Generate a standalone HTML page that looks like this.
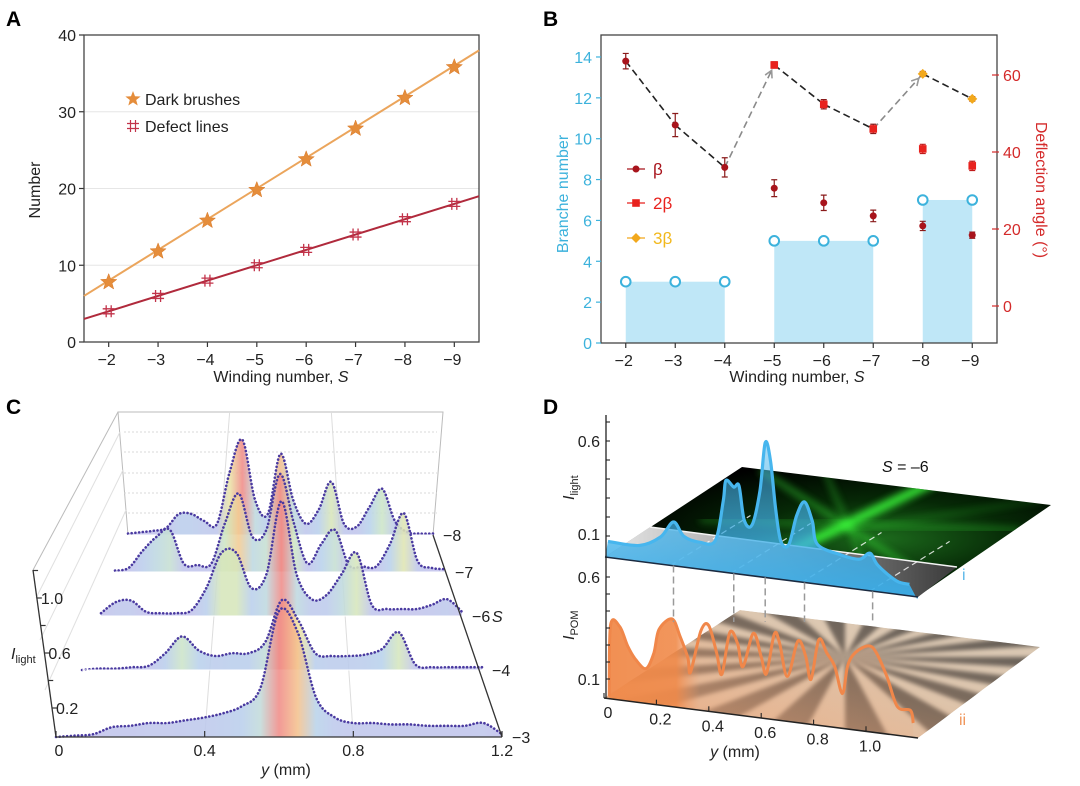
<!DOCTYPE html>
<html><head><meta charset="utf-8"><title>Figure</title>
<style>
html,body{margin:0;padding:0;background:#fff;}
svg{display:block;font-family:"Liberation Sans",Arial,sans-serif;}
</style></head>
<body>
<svg id="fig" width="1080" height="786" viewBox="0 0 1080 786" xmlns="http://www.w3.org/2000/svg">
<defs>
  <radialGradient id="greenGlow" cx="0.62" cy="0.55" r="0.6">
    <stop offset="0" stop-color="#1c6a1c"/><stop offset="0.5" stop-color="#062806"/><stop offset="1" stop-color="#000"/>
  </radialGradient>
  <linearGradient id="frontStrip" x1="0" y1="0" x2="1" y2="0">
    <stop offset="0" stop-color="#e8e8e8"/><stop offset="0.5" stop-color="#9a9a9a"/><stop offset="1" stop-color="#3a3a3a"/>
  </linearGradient>
  <linearGradient id="blueFill" x1="0" y1="0" x2="0" y2="1">
    <stop offset="0" stop-color="#49b4ea" stop-opacity="0.45"/><stop offset="1" stop-color="#3aaeea" stop-opacity="0.95"/>
  </linearGradient>
  <linearGradient id="orangeFill" x1="0" y1="0" x2="1" y2="0">
    <stop offset="0" stop-color="#f08a4a" stop-opacity="0.95"/><stop offset="0.22" stop-color="#f08a4a" stop-opacity="0.9"/><stop offset="0.3" stop-color="#f0a070" stop-opacity="0.15"/><stop offset="1" stop-color="#f0a070" stop-opacity="0.1"/>
  </linearGradient>
  <linearGradient id="pomTint" x1="0" y1="1" x2="1" y2="0">
    <stop offset="0" stop-color="#f2a070" stop-opacity="0.75"/><stop offset="0.5" stop-color="#f2b890" stop-opacity="0.25"/><stop offset="1" stop-color="#fff" stop-opacity="0"/>
  </linearGradient>
  <filter id="blur2"><feGaussianBlur stdDeviation="2"/></filter>
  <filter id="blur4"><feGaussianBlur stdDeviation="4"/></filter>
  <clipPath id="upperClip"><polygon points="742,467 1051,505 917,597 605,557"/></clipPath>
  <clipPath id="lowerClip"><polygon points="740,610 1040,647 918,738 604,698"/></clipPath>
</defs>

<!-- Panel labels -->
<text x="6" y="26" font-size="21" font-weight="bold">A</text>
<text x="543" y="26" font-size="21" font-weight="bold">B</text>
<text x="6" y="414" font-size="21" font-weight="bold">C</text>
<text x="543" y="414" font-size="21" font-weight="bold">D</text>

<g id="panelA"></g>
<g id="panelB"></g>
<g id="panelC"></g>
<g id="panelD"></g>
</svg>

<script>
// ---------- Panel A data ----------
const aCategories = [-2, -3, -4, -5, -6, -7, -8, -9];
const aDarkBrushes = [7.8, 11.8, 15.8, 19.8, 23.8, 27.8, 31.8, 35.8];
const aDefectLines = [4, 6, 8, 10, 12, 14, 16, 18];
const aFitDarkEnds = [6, 38];
const aFitDefectEnds = [3, 19];
const aFitRange = [-1.5, -9.5];
const aYTicks = [0, 10, 20, 30, 40];

// ---------- Panel B data ----------
const bCategories = [-2, -3, -4, -5, -6, -7, -8, -9];
const bBranches = [3, 3, 3, 5, 5, 5, 7, 7];
const bDeflection = [63.6, 47, 36, 62.6, 52.4, 46, 60.3, 53.8];
const bDeflectionErr = [2, 3, 2.5, 0.8, 1.2, 1.2, 0.6, 0.6];
const bDeflectionType = ['b1', 'b1', 'b1', 'b2', 'b2', 'b2', 'b3', 'b3'];
const bBetaCats = [-5, -6, -7, -8, -9];
const bBeta = [30.6, 26.8, 23.4, 20.8, 18.4];
const bBetaErr = [2.2, 2, 1.5, 1.2, 0.8];
const b2BetaCats = [-8, -9];
const b2Beta = [40.8, 36.4];
const b2BetaErr = [1.2, 1.2];
const bLeftTicks = [0, 2, 4, 6, 8, 10, 12, 14];
const bRightTicks = [0, 20, 40, 60];

// ---------- Panel C data ----------
const cPositions = [0,0.05,0.1,0.15,0.2,0.25,0.3,0.35,0.4,0.45,0.5,0.55,0.6,0.65,0.7,0.75,0.8,0.85,0.9,0.95,1.0,1.05,1.1,1.15,1.2];
const cRowLabels = ['-3', '-4', '-6', '-7', '-8'];
const cRowS3 = [0,0.01,0.02,0.07,0.08,0.1,0.1,0.12,0.14,0.17,0.22,0.35,0.9,0.75,0.28,0.14,0.1,0.1,0.09,0.09,0.08,0.08,0.08,0.1,0.02];
const cRowS4 = [0,0.01,0.01,0.02,0.03,0.12,0.24,0.14,0.1,0.12,0.12,0.2,0.5,0.35,0.12,0.1,0.1,0.11,0.15,0.27,0.04,0.02,0.02,0.02,0.02];
const cRowS6 = [0.02,0.1,0.11,0.03,0.02,0.02,0.04,0.2,0.45,0.45,0.2,0.3,0.82,0.3,0.12,0.15,0.3,0.45,0.08,0.05,0.05,0.05,0.08,0.12,0.03];
const cRowS7 = [0.01,0.03,0.15,0.25,0.3,0.06,0.05,0.06,0.35,0.56,0.25,0.3,0.7,0.35,0.06,0.2,0.3,0.05,0.04,0.04,0.2,0.42,0.08,0.03,0.02];
const cRowS8 = [0.01,0.02,0.03,0.05,0.15,0.15,0.1,0.08,0.45,0.68,0.25,0.15,0.58,0.25,0.08,0.18,0.38,0.08,0.06,0.2,0.33,0.1,0.02,0.01,0.01];
const cXTicks = [0, 0.4, 0.8, 1.2];
const cYTicks = [0.2, 0.6, 1.0];

// ---------- Panel D data ----------
const dLightPos = [0,0.12,0.2,0.25,0.29,0.35,0.41,0.44,0.45,0.48,0.5,0.52,0.55,0.58,0.6,0.62,0.64,0.66,0.69,0.72,0.75,0.78,0.8,0.89,0.96,1.0,1.03,1.1,1.15];
const dLight = [0.03,0.03,0.09,0.18,0.11,0.09,0.11,0.33,0.44,0.41,0.42,0.24,0.22,0.41,0.67,0.58,0.32,0.15,0.14,0.3,0.38,0.28,0.16,0.12,0.11,0.15,0.09,0.02,0.01];
const dPomPos = [0.02,0.025,0.06,0.09,0.12,0.16,0.19,0.21,0.26,0.29,0.32,0.33,0.37,0.4,0.43,0.45,0.48,0.51,0.53,0.57,0.6,0.62,0.65,0.67,0.7,0.74,0.77,0.79,0.82,0.85,0.88,0.91,0.93,0.96,1.01,1.04,1.08,1.12,1.17,1.18];
const dPom = [0.01,0.36,0.36,0.27,0.21,0.17,0.25,0.37,0.43,0.35,0.25,0.18,0.39,0.42,0.29,0.19,0.4,0.35,0.24,0.41,0.3,0.22,0.42,0.38,0.22,0.4,0.33,0.22,0.42,0.36,0.3,0.17,0.31,0.38,0.42,0.39,0.28,0.14,0.13,0.07];
const dXTicks = ['0', '0.2', '0.4', '0.6', '0.8', '1.0'];
const dFeaturePos = [0.25, 0.48, 0.6, 0.75, 1.01];

const NS = 'http://www.w3.org/2000/svg';
function mk(tag, attrs, parent) {
  const e = document.createElementNS(NS, tag);
  for (const k in attrs) e.setAttribute(k, attrs[k]);
  parent.appendChild(e);
  return e;
}
function smooth(pts) {
  let d = 'M' + pts[0][0].toFixed(1) + ',' + pts[0][1].toFixed(1);
  for (let i = 0; i < pts.length - 1; i++) {
    const p0 = pts[i - 1] || pts[i], p1 = pts[i], p2 = pts[i + 1], p3 = pts[i + 2] || pts[i + 1];
    const c1 = [p1[0] + (p2[0] - p0[0]) / 6, p1[1] + (p2[1] - p0[1]) / 6];
    const c2 = [p2[0] - (p3[0] - p1[0]) / 6, p2[1] - (p3[1] - p1[1]) / 6];
    d += ' C' + c1[0].toFixed(1) + ',' + c1[1].toFixed(1) + ' ' + c2[0].toFixed(1) + ',' + c2[1].toFixed(1) + ' ' + p2[0].toFixed(1) + ',' + p2[1].toFixed(1);
  }
  return d;
}
function txt(parent, x, y, s, attrs) {
  const t = mk('text', Object.assign({x: x, y: y}, attrs || {}), parent);
  t.textContent = s;
  return t;
}
function starPts(cx, cy, R) {
  const p = [];
  for (let i = 0; i < 10; i++) {
    const r = i % 2 ? R * 0.42 : R;
    const a = -Math.PI / 2 + i * Math.PI / 5;
    p.push((cx + r * Math.cos(a)).toFixed(1) + ',' + (cy + r * Math.sin(a)).toFixed(1));
  }
  return p.join(' ');
}

// ================= PANEL A =================
(function () {
  const g = document.getElementById('panelA');
  const L = 84, R = 479, T = 35, B = 342;
  const xA = s => L + ((-s) - 1.5) / 8 * (R - L);
  const yA = v => B - v * (B - T) / 40;
  aYTicks.forEach(v => {
    if (v > 0 && v < 40) {
      const gl = mk('line', {x1: L, x2: R, y1: yA(v), y2: yA(v), stroke: '#e6e6e6', 'stroke-width': 1}, g);
      
      
    }
    const tk = mk('line', {x1: L - 5, x2: L, y1: yA(v), y2: yA(v), stroke: '#333', 'stroke-width': 1.2}, g);
    
    
    const tl = txt(g, L - 8, yA(v) + 6, String(v), {'font-size': 16, 'text-anchor': 'end', fill: '#222'});
    
    
  });
  aCategories.forEach(s => {
    const tk = mk('line', {x1: xA(s), x2: xA(s), y1: B, y2: B + 5, stroke: '#333', 'stroke-width': 1.2}, g);
    
    
    const tl = txt(g, xA(s) - 2, B + 23, '\u2212' + (-s), {'font-size': 16, 'text-anchor': 'middle', fill: '#222'});
    
    
  });
  const frame = mk('rect', {x: L, y: T, width: R - L, height: B - T, fill: 'none', stroke: '#444', 'stroke-width': 1.3}, g);
  
  
  const f1 = mk('line', {x1: xA(aFitRange[0]), y1: yA(aFitDarkEnds[0]), x2: xA(aFitRange[1]), y2: yA(aFitDarkEnds[1]), stroke: '#eba55c', 'stroke-width': 2}, g);
  
  
  const f2 = mk('line', {x1: xA(aFitRange[0]), y1: yA(aFitDefectEnds[0]), x2: xA(aFitRange[1]), y2: yA(aFitDefectEnds[1]), stroke: '#b02a3c', 'stroke-width': 2}, g);
  
  
  aCategories.forEach((s, i) => {
    const st = mk('polygon', {points: starPts(xA(s), yA(aDarkBrushes[i]), 8.5), fill: '#e58d3b', stroke: '#d97a2a', 'stroke-width': 0.5}, g);
    
    
    const cx = xA(s), cy = yA(aDefectLines[i]);
    const hs = mk('path', {d: `M${cx - 2.5},${cy - 6}v12M${cx + 2.5},${cy - 6}v12M${cx - 6},${cy - 2.5}h12M${cx - 6},${cy + 2.5}h12`, stroke: '#c2334a', 'stroke-width': 1.3, fill: 'none'}, g);
    
    
  });
  const ls = mk('polygon', {points: starPts(133, 99, 8), fill: '#e58d3b'}, g);
  
  
  const lt1 = txt(g, 145, 105, 'Dark brushes', {'font-size': 16, fill: '#222'});
  
  
  const lh = mk('path', {d: 'M130.5,120v12M135.5,120v12M127,123.5h12M127,128.5h12', stroke: '#c2334a', 'stroke-width': 1.2, fill: 'none'}, g);
  
  
  const lt2 = txt(g, 145, 132, 'Defect lines', {'font-size': 16, fill: '#222'});
  
  
  const yt = txt(g, 0, 0, 'Number', {'font-size': 16, 'text-anchor': 'middle', fill: '#222', transform: 'translate(40,190) rotate(-90)'});
  
  
  const xt = mk('text', {x: 281, y: 382, 'font-size': 16, 'text-anchor': 'middle', fill: '#222'}, g);
  xt.innerHTML = 'Winding number, <tspan font-style="italic">S</tspan>';
  
  
})();

// ================= PANEL B =================
(function () {
  const g = document.getElementById('panelB');
  const L = 601, R = 997, T = 35, B = 343;
  const xB = s => L + ((-s) - 1.5) / 8 * (R - L);
  const yL = v => B - v * 20.43;
  const yR = d => 306 - d * 3.85;
  // bars grouped by equal consecutive values
  let start = 0;
  for (let i = 1; i <= bBranches.length; i++) {
    if (i === bBranches.length || bBranches[i] !== bBranches[start]) {
      const x0 = xB(bCategories[start]), x1 = xB(bCategories[i - 1]);
      const bar = mk('rect', {x: x0, y: yL(bBranches[start]), width: x1 - x0, height: B - yL(bBranches[start]), fill: '#bfe7f7'}, g);
      
      
      start = i;
    }
  }
  bCategories.forEach((s, i) => {
    const c = mk('circle', {cx: xB(s), cy: yL(bBranches[i]), r: 4.8, fill: '#fff', stroke: '#3cb2dc', 'stroke-width': 2}, g);
    
    
  });
  // dashed line segments
  for (let i = 0; i < bCategories.length - 1; i++) {
    const changed = bDeflectionType[i] !== bDeflectionType[i + 1];
    const x1 = xB(bCategories[i]), y1 = yR(bDeflection[i]), x2 = xB(bCategories[i + 1]), y2 = yR(bDeflection[i + 1]);
    const seg = mk('line', {x1: x1, y1: y1, x2: x2, y2: y2, stroke: changed ? '#8a8a8a' : '#222', 'stroke-width': 1.6, 'stroke-dasharray': '7 4'}, g);
    
    
    if (changed) {
      const a = Math.atan2(y2 - y1, x2 - x1), hx = x2 - 6 * Math.cos(a), hy = y2 - 6 * Math.sin(a);
      const ah = mk('path', {d: `M${hx - 8 * Math.cos(a - 0.5)},${hy - 8 * Math.sin(a - 0.5)}L${hx},${hy}L${hx - 8 * Math.cos(a + 0.5)},${hy - 8 * Math.sin(a + 0.5)}`, stroke: '#999', 'stroke-width': 1.6, fill: 'none'}, g);
      
      
    }
  }
  function errBar(x, v, e, col) {
    const p = mk('path', {d: `M${x},${yR(v + e)}V${yR(v - e)}M${x - 3},${yR(v + e)}h6M${x - 3},${yR(v - e)}h6`, stroke: col, 'stroke-width': 1.2, fill: 'none'}, g);
    
    
  }
  function marker(type, x, y, nm) {
    let m;
    if (type === 'b1') m = mk('circle', {cx: x, cy: y, r: 3.5, fill: '#a8141c'}, g);
    else if (type === 'b2') m = mk('rect', {x: x - 3.8, y: y - 3.8, width: 7.6, height: 7.6, fill: '#e8221e'}, g);
    else m = mk('polygon', {points: `${x},${y - 5} ${x + 5},${y} ${x},${y + 5} ${x - 5},${y}`, fill: '#f2a81c'}, g);
    
    
  }
  bCategories.forEach((s, i) => {
    errBar(xB(s), bDeflection[i], bDeflectionErr[i], '#8a1a1a');
    marker(bDeflectionType[i], xB(s), yR(bDeflection[i]), 'deflection-point');
  });
  bBetaCats.forEach((s, i) => {
    errBar(xB(s), bBeta[i], bBetaErr[i], '#8a1a1a');
    marker('b1', xB(s), yR(bBeta[i]), 'beta-point');
  });
  b2BetaCats.forEach((s, i) => {
    errBar(xB(s), b2Beta[i], b2BetaErr[i], '#c01a1a');
    marker('b2', xB(s), yR(b2Beta[i]), 'two-beta-point');
  });
  const frame = mk('rect', {x: L, y: T, width: R - L, height: B - T, fill: 'none', stroke: '#444', 'stroke-width': 1.3}, g);
  
  
  bLeftTicks.forEach(v => {
    const tk = mk('line', {x1: L - 5, x2: L, y1: yL(v), y2: yL(v), stroke: '#3cb2dc', 'stroke-width': 1.2}, g);
    
    
    const tl = txt(g, L - 9, yL(v) + 6, String(v), {'font-size': 16, 'text-anchor': 'end', fill: '#3cb2dc'});
    
    
  });
  bRightTicks.forEach(v => {
    const tk = mk('line', {x1: R - 5, x2: R + 2, y1: yR(v), y2: yR(v), stroke: '#d42a2a', 'stroke-width': 1.2}, g);
    
    
    const tl = txt(g, R + 6, yR(v) + 6, String(v), {'font-size': 16, fill: '#d42a2a'});
    
    
  });
  bCategories.forEach(s => {
    const tk = mk('line', {x1: xB(s), x2: xB(s), y1: B, y2: B + 5, stroke: '#333', 'stroke-width': 1.2}, g);
    
    
    const tl = txt(g, xB(s) - 2, B + 23, '\u2212' + (-s), {'font-size': 16, 'text-anchor': 'middle', fill: '#222'});
    
    
  });
  // legend
  [['b1', 'β', 169, '#a8141c', '#a8141c'], ['b2', '2β', 203, '#e8221e', '#e8221e'], ['b3', '3β', 238, '#f2a81c', '#f2b81c']].forEach(l => {
    const ln = mk('line', {x1: 627, x2: 645, y1: l[2], y2: l[2], stroke: l[3], 'stroke-width': 1.2}, g);
    
    
    marker(l[0], 636, l[2], 'legend-marker');
    const t = txt(g, 653, l[2] + 6, l[1], {'font-size': 17, fill: l[4]});
    
    
  });
  const yt = txt(g, 0, 0, 'Branche number', {'font-size': 16, 'text-anchor': 'middle', fill: '#3cb2dc', transform: 'translate(568,194) rotate(-90)'});
  
  
  const yt2 = txt(g, 0, 0, 'Deflection angle (°)', {'font-size': 16, 'text-anchor': 'middle', fill: '#d42a2a', transform: 'translate(1036,190) rotate(90)'});
  
  
  const xt = mk('text', {x: 797, y: 382, 'font-size': 16, 'text-anchor': 'middle', fill: '#222'}, g);
  xt.innerHTML = 'Winding number, <tspan font-style="italic">S</tspan>';
  
  
})();

// ================= PANEL C =================
(function () {
  const g = document.getElementById('panelC');
  const defs = document.querySelector('defs');
  // back panel & side panel frame
  const bp = mk('path', {d: 'M128,535L118,412H443L433,535', fill: 'none', stroke: '#bbb', 'stroke-width': 1}, g);
  
  
  const sp = mk('line', {x1: 118, y1: 412, x2: 33, y2: 570, stroke: '#bbb', 'stroke-width': 1}, g);
  
  
  [432, 452, 473, 493, 513].forEach(y => {
    const gl = mk('line', {x1: 124, x2: 437, y1: y, y2: y, stroke: '#d8d8d8', 'stroke-width': 1, 'stroke-dasharray': '2 2'}, g);
    
    
  });
  [[120, 432, 36, 598], [123, 470, 40, 640], [126, 510, 45, 690]].forEach(p => {
    const gl = mk('line', {x1: p[0], y1: p[1], x2: p[2], y2: p[3], stroke: '#e0e0e0', 'stroke-width': 1}, g);
    
    
  });
  [[0.4, '#ddd'], [0.8, '#ddd']].forEach(p => {
    const gl = mk('line', {x1: 56 + p[0] * 446 / 1.2, y1: 737, x2: 128 + p[0] * 305 / 1.2, y2: 412, stroke: p[1], 'stroke-width': 1}, g);
    
    
  });
  const rows = [cRowS3, cRowS4, cRowS6, cRowS7, cRowS8];
  const geom = [[737, 56, 502], [670, 82, 482], [616, 101, 462], [572, 115, 445], [535, 128, 433]];
  const H = 140;
  function cmap(t) {
    const st = [[0, [196, 192, 236]], [0.3, [184, 210, 236]], [0.5, [206, 230, 196]], [0.7, [240, 228, 160]], [0.85, [244, 190, 140]], [1, [240, 140, 136]]];
    for (let i = 0; i < st.length - 1; i++) {
      if (t <= st[i + 1][0]) {
        const f = (t - st[i][0]) / (st[i + 1][0] - st[i][0]);
        const c = st[i][1].map((v, k) => Math.round(v + (st[i + 1][1][k] - v) * f));
        return `rgb(${c[0]},${c[1]},${c[2]})`;
      }
    }
    return 'rgb(240,140,136)';
  }
  for (let r = rows.length - 1; r >= 0; r--) {
    const vals = rows[r], [base, x0, x1] = geom[r];
    const mx = Math.max.apply(null, vals);
    const gid = 'cg' + r;
    const lg = mk('linearGradient', {id: gid, x1: x0, x2: x1, y1: 0, y2: 0, gradientUnits: 'userSpaceOnUse'}, defs);
    cPositions.forEach((p, i) => {
      mk('stop', {offset: (p / 1.2).toFixed(3), 'stop-color': cmap(vals[i] / mx)}, lg);
    });
    const pts = cPositions.map((p, i) => [x0 + p / 1.2 * (x1 - x0), base - vals[i] * H]);
    const dCurve = smooth(pts);
    const fill = mk('path', {d: dCurve + ` L${x1},${base} L${x0},${base} Z`, fill: `url(#${gid})`, 'fill-opacity': 0.88}, g);
    
    
    const ln = mk('path', {d: dCurve, fill: 'none', stroke: '#4a3aa0', 'stroke-width': 2.6, 'stroke-linecap': 'round', 'stroke-dasharray': '0.1 3.6'}, g);
    
    
    const bl = mk('line', {x1: x0, x2: x1, y1: base, y2: base, stroke: r === 0 ? '#333' : '#fff', 'stroke-width': r === 0 ? 1.3 : 1}, g);
    
    
    const lab = txt(g, x1 + 10, base + 6, '\u2212' + cRowLabels[r].slice(1), {'font-size': 16, fill: '#222'});
    
    
  }
  const sLab = txt(g, 492, 622, 'S', {'font-size': 16, 'font-style': 'italic', fill: '#222'});
  
  
  const redge = mk('line', {x1: 433, y1: 535, x2: 502, y2: 737, stroke: '#333', 'stroke-width': 1.3}, g);
  
  
  const ax = mk('line', {x1: 33, y1: 570, x2: 56, y2: 737, stroke: '#333', 'stroke-width': 1.3}, g);
  
  
  const yPix = v => 735.5 - v * 137.5;
  const xAt = y => 33 + (y - 570) / 167 * 23;
  [0.2, 0.4, 0.6, 0.8, 1.0, 1.2].forEach(v => {
    const y = yPix(v);
    if (y < 570) return;
    const tk = mk('line', {x1: xAt(y), x2: xAt(y) + 5, y1: y, y2: y, stroke: '#333', 'stroke-width': 1.2}, g);
    
    
  });
  cYTicks.forEach(v => {
    const y = yPix(v);
    const tl = txt(g, xAt(y) + 4, y + 6, v.toFixed(1), {'font-size': 16, fill: '#222'});
    
    
  });
  cXTicks.forEach(v => {
    const x = 56 + v / 1.2 * 446;
    const tk = mk('line', {x1: x, x2: x, y1: 737, y2: 731, stroke: '#333', 'stroke-width': 1.2}, g);
    
    
    const tl = txt(g, x + (v === 0 ? 3 : 0), 756, v === 0 ? '0' : v.toFixed(1), {'font-size': 16, 'text-anchor': 'middle', fill: '#222'});
    
    
  });
  const xt = mk('text', {x: 286, y: 775, 'font-size': 16, 'text-anchor': 'middle', fill: '#222'}, g);
  xt.innerHTML = '<tspan font-style="italic">y</tspan> (mm)';
  
  
  const yt = mk('text', {x: 11, y: 659, 'font-size': 16, fill: '#222'}, g);
  yt.innerHTML = '<tspan font-style="italic">I</tspan><tspan font-size="11" dy="4">light</tspan>';
  
  
})();

// ================= PANEL D =================
(function () {
  const g = document.getElementById('panelD');
  // upper plane
  const up = mk('polygon', {points: '742,467 1051,505 917,597 605,557', fill: 'url(#greenGlow)'}, g);
  
  
  const rays = mk('g', {'clip-path': 'url(#upperClip)'}, g);
  
  
  [[700, 595, 1000, 450, 9, 0.9], [760, 470, 930, 580, 5, 0.5], [820, 460, 880, 600, 4, 0.4], [700, 520, 1020, 530, 4, 0.4], [650, 560, 1040, 500, 3, 0.3]].forEach(r => {
    mk('line', {x1: r[0], y1: r[1], x2: r[2], y2: r[3], stroke: '#3cff3c', 'stroke-width': r[4], opacity: r[5], filter: 'url(#blur4)'}, rays);
  });
  const strip = mk('polygon', {points: '650,527 957,567 918,597 605,557', fill: 'url(#frontStrip)'}, g);
  
  
  const wl = mk('line', {x1: 650, y1: 527, x2: 957, y2: 567, stroke: '#f4f4f4', 'stroke-width': 1.5}, g);
  
  
  // lower POM plane
  const pomG = mk('g', {'clip-path': 'url(#lowerClip)'}, g);
  
  
  mk('polygon', {points: '740,610 1040,647 918,738 604,698', fill: '#d8c6b0'}, pomG);
  const sect = mk('g', {filter: 'url(#blur2)'}, pomG);
  const cx = 845, cy = 657, N = 36;
  for (let i = 0; i < N; i += 2) {
    const a1 = i * 2 * Math.PI / N, a2 = (i + 1) * 2 * Math.PI / N;
    mk('polygon', {points: `${cx},${cy} ${cx + 400 * Math.cos(a1)},${cy + 130 * Math.sin(a1)} ${cx + 400 * Math.cos(a2)},${cy + 130 * Math.sin(a2)}`, fill: '#5a534c'}, sect);
  }
  mk('polygon', {points: '740,610 1040,647 918,738 604,698', fill: 'url(#pomTint)'}, pomG);
  // dashed white guide lines on planes
  [0.25, 0.48, 0.75, 1.01].forEach(p => {
    const fx = 605 + p * 262, fy = 557 + p * 262 * 0.13;
    const dl = mk('line', {x1: fx, y1: fy, x2: fx + 80, y2: fy - 50, stroke: '#fff', 'stroke-width': 1.2, 'stroke-dasharray': '6 4', opacity: 0.8}, g);
    
    
  });
  // blue curve
  const bx = p => 608 + p * 262, bb = p => 547 + p * 262 * 0.13;
  const lpts = dLightPos.map((p, i) => [bx(p), bb(p) - dLight[i] * 186]);
  const lcurve = smooth(lpts);
  const lf = mk('path', {d: lcurve + ` L${bx(1.18)},${bb(1.18) + 12} L918,597 L605,557 Z`, fill: 'url(#blueFill)'}, g);
  
  
  const ll = mk('path', {d: lcurve, fill: 'none', stroke: '#47b6ee', 'stroke-width': 3.2}, g);
  
  
  const fe = mk('line', {x1: 605, y1: 557, x2: 918, y2: 597, stroke: '#1a2a40', 'stroke-width': 1.5}, g);
  
  
  // orange curve
  const ox = p => 604 + p * 262, ob = p => 698 + p * 262 * 0.127;
  const opts = dPomPos.map((p, i) => [ox(p), ob(p) - dPom[i] * 204]);
  const ocurve = smooth(opts);
  const of = mk('path', {d: ocurve + ` L${ox(1.18)},${ob(1.18)} L${ox(0.02)},${ob(0.02)} Z`, fill: 'url(#orangeFill)'}, g);
  
  
  const ol = mk('path', {d: ocurve, fill: 'none', stroke: '#f0874a', 'stroke-width': 3}, g);
  
  
  // vertical dashed connectors
  dFeaturePos.forEach(p => {
    const x = 608 + p * 262;
    const vl = mk('line', {x1: x, x2: x, y1: bb(p) + 10, y2: 622, stroke: '#999', 'stroke-width': 1.5, 'stroke-dasharray': '7 4'}, g);
    
    
  });
  const le = mk('line', {x1: 604, y1: 698, x2: 918, y2: 738, stroke: '#222', 'stroke-width': 1.5}, g);
  
  
  // y axis
  const ax = mk('line', {x1: 606, x2: 606, y1: 415, y2: 699, stroke: '#222', 'stroke-width': 1.3}, g);
  
  
  for (let y = 422; y < 555; y += 19) {
    const tk = mk('line', {x1: 606, x2: 610, y1: y, y2: y, stroke: '#222', 'stroke-width': 1.1}, g);
    
    
  }
  for (let y = 577; y < 695; y += 17) {
    const tk = mk('line', {x1: 606, x2: 610, y1: y, y2: y, stroke: '#222', 'stroke-width': 1.1}, g);
    
    
  }
  [['0.6', 447], ['0.1', 540], ['0.6', 583], ['0.1', 685]].forEach(t => {
    const tl = txt(g, 600, t[1], t[0], {'font-size': 16, 'text-anchor': 'end', fill: '#222'});
    
    
  });
  dXTicks.forEach((s, i) => {
    const p = i * 0.2, x = 604 + p * 262, y = 698 + p * 262 * 0.127;
    const tk = mk('line', {x1: x, x2: x, y1: y, y2: y - 5, stroke: '#222', 'stroke-width': 1.1}, g);
    
    
    const tl = txt(g, x + 4, y + 20, s, {'font-size': 16, 'text-anchor': 'middle', fill: '#222'});
    
    
  });
  const xt = mk('text', {x: 735, y: 757, 'font-size': 16, 'text-anchor': 'middle', fill: '#222'}, g);
  xt.innerHTML = '<tspan font-style="italic">y</tspan> (mm)';
  
  
  const y1 = mk('text', {'font-size': 16, fill: '#222', transform: 'translate(574,500) rotate(-90)'}, g);
  y1.innerHTML = '<tspan font-style="italic">I</tspan><tspan font-size="11" dy="4">light</tspan>';
  
  
  const y2 = mk('text', {'font-size': 16, fill: '#222', transform: 'translate(574,640) rotate(-90)'}, g);
  y2.innerHTML = '<tspan font-style="italic">I</tspan><tspan font-size="11" dy="4">POM</tspan>';
  
  
  const st = mk('text', {x: 882, y: 472, 'font-size': 16, fill: '#111'}, g);
  st.innerHTML = '<tspan font-style="italic">S</tspan> = \u20136';
  
  
  const i1 = txt(g, 962, 580, 'i', {'font-size': 16, fill: '#5bb8e8'});
  
  
  const i2 = txt(g, 959, 725, 'ii', {'font-size': 16, fill: '#f0955a'});
  
  
})();
</script>
</body></html>
